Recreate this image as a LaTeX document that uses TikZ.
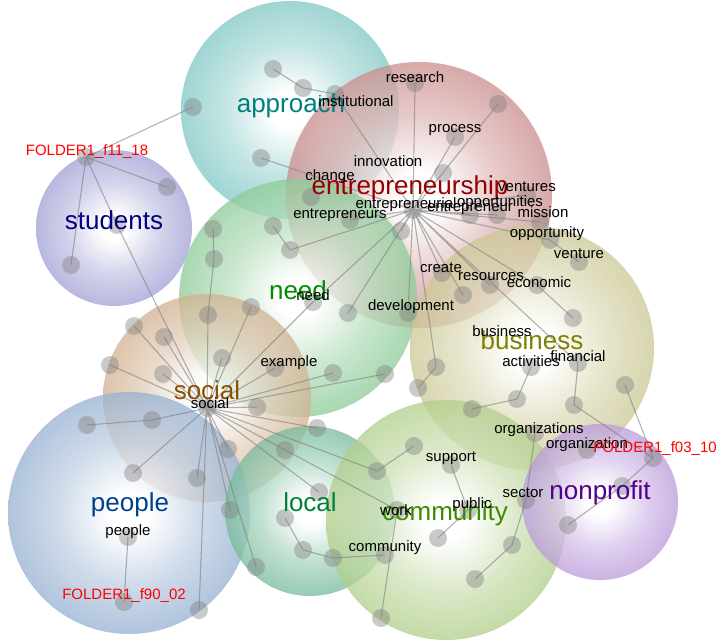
\documentclass[tikz,border=0pt]{standalone}
\usepackage{fontspec}
\setmainfont{Liberation Sans}

\definecolor{approachc}{RGB}{60,170,165}
\definecolor{entrepc}{RGB}{175,80,80}
\definecolor{studentsc}{RGB}{110,110,190}
\definecolor{needc}{RGB}{80,175,95}
\definecolor{socialc}{RGB}{185,135,85}
\definecolor{businessc}{RGB}{175,170,90}
\definecolor{peoplec}{RGB}{95,135,185}
\definecolor{localc}{RGB}{45,150,100}
\definecolor{communityc}{RGB}{135,180,75}
\definecolor{nonprofitc}{RGB}{150,100,200}

\definecolor{approacht}{RGB}{0,128,128}
\definecolor{entrept}{RGB}{150,0,0}
\definecolor{studentst}{RGB}{0,0,128}
\definecolor{needt}{RGB}{0,140,0}
\definecolor{socialt}{RGB}{140,80,0}
\definecolor{businesst}{RGB}{128,128,0}
\definecolor{peoplet}{RGB}{0,64,140}
\definecolor{localt}{RGB}{0,128,60}
\definecolor{communityt}{RGB}{60,140,0}
\definecolor{nonprofitt}{RGB}{80,0,140}

\colorlet{bubblecol}{gray}
\pgfdeclareradialshading[bubblecol]{bubble}{\pgfpoint{0bp}{0bp}}{color(0bp)=(white); color(4bp)=(white); color(15bp)=(bubblecol!40!white); color(32bp)=(bubblecol!82!white); color(50bp)=(bubblecol)}

\tikzset{
	bubble/.style={/utils/exec={\colorlet{bubblecol}{#1}},shading=bubble,fill opacity=0.76},
	dot/.style={circle,inner sep=0pt,minimum size=18pt,fill=gray,fill opacity=0.42},
	link/.style={draw=gray,line width=1.1pt,draw opacity=0.6},
	word/.style={font=\fontsize{15}{15}\selectfont,inner sep=0pt},
	topic/.style={font=\fontsize{26}{26}\selectfont,inner sep=0pt,text=#1},
	folder/.style={font=\fontsize{15}{15}\selectfont,inner sep=0pt,text=red}
}

\begin{document}
\begin{tikzpicture}[x=1pt,y=-1pt]
	\useasboundingbox (0,0) rectangle (722,644);

	% clusters
	\shade[bubble=approachc] (290,110) circle (109);
	\shade[bubble=entrepc] (419,195) circle (133);
	\shade[bubble=studentsc] (114,228) circle (78);
	\shade[bubble=needc] (298,298) circle (119);
	\shade[bubble=socialc] (207,398) circle (104);
	\shade[bubble=businessc] (532,348) circle (122);
	\shade[bubble=peoplec] (129,513) circle (121);
	\shade[bubble=localc] (310,511) circle (85);
	\shade[bubble=communityc] (446,520) circle (120);
	\shade[bubble=nonprofitc] (600,502) circle (78);

	% entrepreneurship
	\node [dot] (eh) at (413,210) {};
	\node [dot] (research) at (415,83) {};
	\node [dot] (e1) at (498,104) {};
	\node [dot] (process) at (455,137) {};
	\node [dot] (e2) at (443,173) {};
	\node [dot] (e3) at (470,215) {};
	\node [dot] (e4) at (497,215) {};
	\node [dot] (ventures) at (527,195) {};
	\node [dot] (mission) at (540,222) {};
	\node [dot] (opportunity) at (550,240) {};
	\node [dot] (venture) at (579,262) {};
	\node [dot] (economic) at (537,285) {};
	\node [dot] (e5) at (573,318) {};
	\node [dot] (resources) at (490,285) {};
	\node [dot] (create) at (442,273) {};
	\node [dot] (e6) at (463,295) {};
	\node [dot] (development) at (408,313) {};
	\node [dot] (e7) at (401,231) {};
	\node [dot] (entrepreneurs) at (350,220) {};

	% approach
	\node [dot] (a1) at (273,69) {};
	\node [dot] (a2) at (303,88) {};
	\node [dot] (institutional) at (335,94) {};
	\node [dot] (a3) at (193,107) {};
	\node [dot] (a4) at (261,158) {};
	\node [dot] (change) at (311,197) {};

	% students
	\node [dot] (fa) at (86,157) {};
	\node [dot] (s1) at (167,187) {};
	\node [dot] (s2) at (71,265) {};
	\node [dot] (s3) at (117,225) {};

	% need
	\node [dot] (n1) at (273,226) {};
	\node [dot] (n2) at (290,250) {};
	\node [dot] (n3) at (213,229) {};
	\node [dot] (n4) at (214,259) {};
	\node [dot] (n5) at (208,315) {};
	\node [dot] (n6) at (251,307) {};
	\node [dot] (need) at (313,302) {};
	\node [dot] (n7) at (348,313) {};
	\node [dot] (n8) at (333,373) {};
	\node [dot] (n9) at (385,374) {};

	% social
	\node [dot] (sh) at (207,408) {};
	\node [dot] (o1) at (134,326) {};
	\node [dot] (o2) at (164,337) {};
	\node [dot] (o3) at (110,365) {};
	\node [dot] (o4) at (163,374) {};
	\node [dot] (o5) at (222,358) {};
	\node [dot] (example) at (275,368) {};
	\node [dot] (o6) at (257,407) {};
	\node [dot] (o7) at (87,425) {};
	\node [dot] (o8) at (152,420) {};
	\node [dot] (o9) at (133,473) {};
	\node [dot] (o10) at (197,478) {};
	\node [dot] (o11) at (228,449) {};

	% people
	\node [dot] (people) at (128,537) {};
	\node [dot] (fb) at (124,602) {};
	\node [dot] (p1) at (199,610) {};

	% local
	\node [dot] (l1) at (317,428) {};
	\node [dot] (l2) at (285,450) {};
	\node [dot] (l3) at (319,492) {};
	\node [dot] (l4) at (230,510) {};
	\node [dot] (l5) at (256,567) {};
	\node [dot] (l6) at (285,518) {};
	\node [dot] (l7) at (303,550) {};
	\node [dot] (l8) at (333,558) {};

	% community
	\node [dot] (work) at (397,510) {};
	\node [dot] (m1) at (377,471) {};
	\node [dot] (m2) at (414,446) {};
	\node [dot] (support) at (451,465) {};
	\node [dot] (public) at (468,510) {};
	\node [dot] (m3) at (438,538) {};
	\node [dot] (sector) at (526,500) {};
	\node [dot] (m4) at (512,545) {};
	\node [dot] (m5) at (475,579) {};
	\node [dot] (community) at (385,555) {};
	\node [dot] (m6) at (381,618) {};

	% business
	\node [dot] (b1) at (436,367) {};
	\node [dot] (b2) at (418,388) {};
	\node [dot] (activities) at (531,367) {};
	\node [dot] (b3) at (517,399) {};
	\node [dot] (b4) at (472,409) {};
	\node [dot] (financial) at (578,363) {};
	\node [dot] (b5) at (574,405) {};
	\node [dot] (b6) at (625,385) {};
	\node [dot] (organizations) at (535,433) {};
	\node [dot] (organization) at (587,450) {};

	% nonprofit
	\node [dot] (fc) at (653,458) {};
	\node [dot] (np1) at (622,486) {};
	\node [dot] (np2) at (568,525) {};

	\draw[link]
		(eh.center) -- (research.center) (eh.center) -- (e1.center)
		(eh.center) -- (process.center) (eh.center) -- (e2.center)
		(eh.center) -- (e3.center) (eh.center) -- (e4.center)
		(eh.center) -- (ventures.center) (eh.center) -- (mission.center)
		(eh.center) -- (opportunity.center) -- (venture.center)
		(eh.center) -- (economic.center) -- (e5.center)
		(eh.center) -- (resources.center) (eh.center) -- (create.center)
		(eh.center) -- (e6.center) (eh.center) -- (development.center)
		(eh.center) -- (e7.center) (eh.center) -- (entrepreneurs.center)
		(eh.center) -- (need.center) (eh.center) -- (n7.center)
		(eh.center) -- (b1.center) -- (b2.center)
		(eh.center) -- (financial.center) -- (b5.center) -- (fc.center)
		(eh.center) -- (a4.center)
		(eh.center) -- (institutional.center) -- (a2.center) -- (a1.center)
		(eh.center) -- (n2.center) -- (n1.center);
	\draw[link]
		(fa.center) -- (a3.center) (fa.center) -- (s1.center)
		(fa.center) -- (s2.center) (fa.center) -- (s3.center) -- (sh.center);
	\draw[link]
		(sh.center) -- (n5.center) -- (n4.center) -- (n3.center)
		(sh.center) -- (n6.center) (sh.center) -- (need.center)
		(sh.center) -- (example.center) (sh.center) -- (n8.center)
		(sh.center) -- (n9.center) (sh.center) -- (o1.center)
		(sh.center) -- (o2.center) (sh.center) -- (o3.center)
		(sh.center) -- (o4.center) (sh.center) -- (o5.center)
		(sh.center) -- (o6.center) (sh.center) -- (o8.center) -- (o7.center)
		(sh.center) -- (o9.center) (sh.center) -- (o10.center)
		(sh.center) -- (o11.center) (sh.center) -- (p1.center)
		(sh.center) -- (l1.center) (sh.center) -- (l2.center)
		(sh.center) -- (l3.center) (sh.center) -- (l4.center)
		(sh.center) -- (l5.center) (sh.center) -- (m1.center) -- (m2.center)
		(sh.center) -- (work.center) -- (m6.center);
	\draw[link]
		(people.center) -- (fb.center)
		(l6.center) -- (l7.center) -- (l8.center) -- (community.center)
		(support.center) -- (public.center) -- (m3.center)
		(organizations.center) -- (sector.center) -- (m4.center) -- (m5.center)
		(activities.center) -- (b3.center) -- (b4.center)
		(b6.center) -- (fc.center) -- (np1.center) -- (np2.center);

	% labels
	\node [topic=approacht] (t-approach) at (291,106) {approach};
	\node [topic=entrept] (t-entrep) at (410,188) {entrepreneurship};
	\node [topic=studentst] (t-students) at (114,220) {students};
	\node [topic=needt] (t-need) at (298,290) {need};
	\node [topic=socialt] (t-social) at (207,390) {social};
	\node [topic=businesst] (t-business) at (532,340) {business};
	\node [topic=peoplet] (t-people) at (130,505) {people};
	\node [topic=localt] (t-local) at (310,502) {local};
	\node [topic=communityt] (t-community) at (445,514) {community};
	\node [topic=nonprofitt] (t-nonprofit) at (600,493) {nonprofit};

	\node [word] (w-research) at (415,77) {research};
	\node [word] (w-institutional) at (356,101) {institutional};
	\node [word] (w-process) at (455,130) {process};
	\node [word] (w-innovation) at (388,161) {innovation};
	\node [word] (w-change) at (330,177) {change};
	\node [word] (w-ventures) at (527,187) {ventures};
	\node [word] (w-entrepreneurial) at (406,205) {entrepreneurial};
	\node [word] (w-entrepreneur) at (470,208) {entrepreneur};
	\node [word] (w-opportunities) at (500,203) {opportunities};
	\node [word] (w-mission) at (543,212) {mission};
	\node [word] (w-entrepreneurs) at (340,215) {entrepreneurs};
	\node [word] (w-opportunity) at (547,234) {opportunity};
	\node [word] (w-venture) at (579,254) {venture};
	\node [word] (w-create) at (441,268) {create};
	\node [word] (w-resources) at (491,277) {resources};
	\node [word] (w-economic) at (539,282) {economic};
	\node [word] (w-need) at (313,295) {need};
	\node [word] (w-development) at (411,307) {development};
	\node [word] (w-business) at (502,331) {business};
	\node [word] (w-financial) at (578,356) {financial};
	\node [word] (w-activities) at (531,361) {activities};
	\node [word] (w-example) at (289,363) {example};
	\node [word] (w-social) at (210,403) {social};
	\node [word] (w-organizations) at (539,430) {organizations};
	\node [word] (w-organization) at (587,445) {organization};
	\node [word] (w-support) at (451,458) {support};
	\node [word] (w-sector) at (523,493) {sector};
	\node [word] (w-public) at (472,505) {public};
	\node [word] (w-work) at (396,510) {work};
	\node [word] (w-community) at (385,548) {community};
	\node [word] (w-people) at (128,532) {people};

	\node [folder] (f-11) at (87,152) {FOLDER1\_f11\_18};
	\node [folder] (f-03) at (655,449) {FOLDER1\_f03\_10};
	\node [folder] (f-90) at (124,596) {FOLDER1\_f90\_02};
\end{tikzpicture}
\end{document}
